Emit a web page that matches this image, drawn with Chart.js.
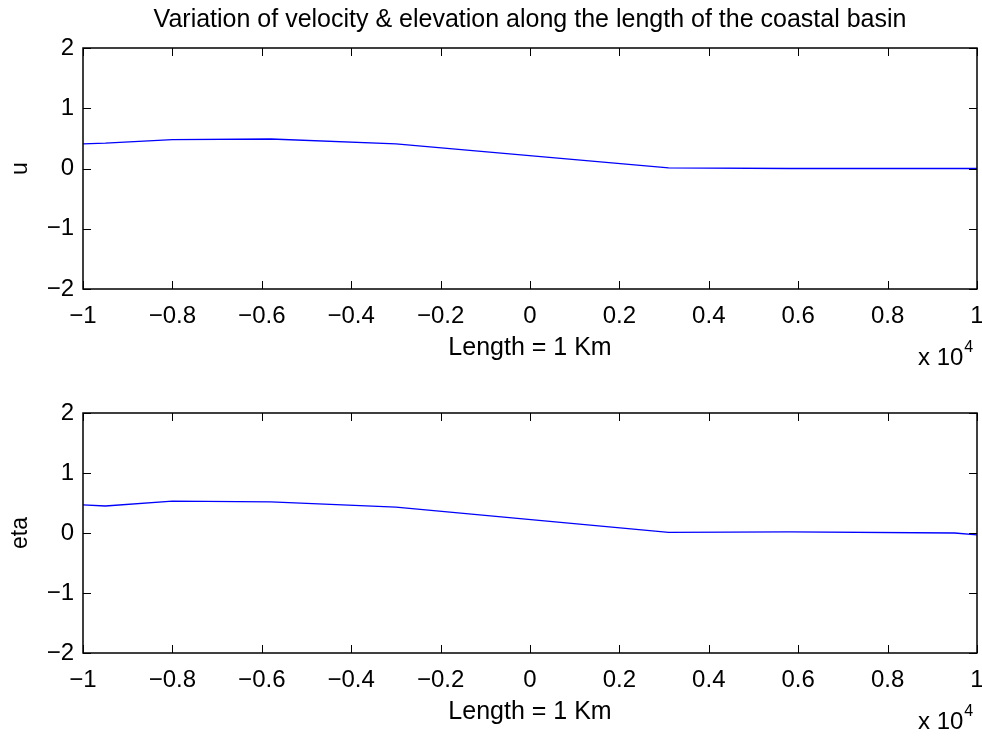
<!DOCTYPE html>
<html>
<head>
<meta charset="utf-8">
<script src="https://cdn.jsdelivr.net/npm/chart.js@4.4.1/dist/chart.umd.min.js"></script>
<style>
  html, body { margin: 0; padding: 0; background: #fff; }
  .box { position: absolute; left: 0; width: 982px; }
  #topBox { top: 0; height: 369px; }
  #botBox { top: 369px; height: 369px; }
</style>
</head>
<body>
<div class="box" id="topBox"><canvas id="uChart"></canvas></div>
<div class="box" id="botBox"><canvas id="etaChart"></canvas></div>
<script>
const FONT = "'Liberation Sans', Arial, Helvetica, sans-serif";

// positions along the basin (m)
const xPos = [-10000, -9500, -8000, -5800, -3000, 3100, 5800, 10000];
// velocity u
const uVals = [0.41, 0.42, 0.48, 0.49, 0.41, 0.01, 0.0, 0.0];
// elevation eta
const etaPos = [-10000, -9500, -8000, -5800, -3000, 3100, 5800, 9500, 10000];
const etaVals = [0.47, 0.45, 0.53, 0.52, 0.43, 0.01, 0.02, 0.0, -0.03];

const yTicks = [-2, -1, 0, 1, 2];
const xTicks = [-10000, -8000, -6000, -4000, -2000, 0, 2000, 4000, 6000, 8000, 10000];

function fmtX(v) {
    const s = Math.round(v / 1000) / 10;
    if (s === 0) return '0';
    return (s < 0 ? '\u2212' : '') + String(Math.abs(s));
}
function fmtY(v) {
    if (v === 0) return '0';
    return (v < 0 ? '\u2212' : '') + String(Math.abs(v));
}

// inward tick marks on all four sides + "x 10^4" multiplier, matlab style
const matlabAxes = {
    id: 'matlabAxes',
    afterLayout(chart) {
        // centre the title over the axes, not the whole canvas
        if (chart.titleBlock) {
            chart.titleBlock.left = chart.chartArea.left;
            chart.titleBlock.right = chart.chartArea.right;
        }
    },
    afterDraw(chart) {
        const { ctx, chartArea: a, scales: { x, y } } = chart;
        const tl = 8;
        ctx.save();
        ctx.strokeStyle = '#000';
        ctx.lineWidth = 1;
        ctx.beginPath();
        xTicks.forEach(t => {
            const px = Math.round(x.getPixelForValue(t)) + 0.5;
            ctx.moveTo(px, a.bottom); ctx.lineTo(px, a.bottom - tl);
            ctx.moveTo(px, a.top); ctx.lineTo(px, a.top + tl);
        });
        yTicks.forEach(t => {
            const py = Math.round(y.getPixelForValue(t)) + 0.5;
            ctx.moveTo(a.left, py); ctx.lineTo(a.left + tl, py);
            ctx.moveTo(a.right, py); ctx.lineTo(a.right - tl, py);
        });
        ctx.stroke();
        ctx.lineWidth = 1.5;
        ctx.strokeRect(a.left, a.top, a.right - a.left, a.bottom - a.top);
        // exponent label
        ctx.fillStyle = '#000';
        ctx.textBaseline = 'alphabetic';
        ctx.textAlign = 'left';
        ctx.font = '24px ' + FONT;
        const ex = a.right - 59;
        const ey = a.bottom + 76;
        ctx.fillText('x 10', ex, ey);
        const w = ctx.measureText('x 10').width;
        ctx.font = '16px ' + FONT;
        ctx.fillText('4', ex + w + 1, ey - 13);
        ctx.restore();
    }
};

function makeChart(id, xs, ys, yLabel, cfg) {
    const pts = xs.map((v, i) => ({ x: v, y: ys[i] }));
    return new Chart(document.getElementById(id), {
        type: 'line',
        data: { datasets: [{ data: pts, borderColor: '#0000ff', borderWidth: 1.3, pointRadius: 0, tension: 0, fill: false }] },
        options: {
            responsive: true,
            maintainAspectRatio: false,
            animation: false,
            events: [],
            layout: { padding: { top: cfg.top, right: 5, left: 0, bottom: 0 } },
            plugins: {
                legend: { display: false },
                tooltip: { enabled: false },
                title: {
                    display: !!cfg.title,
                    text: cfg.title || '',
                    color: '#000',
                    font: { family: FONT, size: 25, weight: 'normal' },
                    padding: { top: 5, bottom: 13 }
                }
            },
            scales: {
                x: {
                    type: 'linear',
                    min: -10000, max: 10000,
                    afterBuildTicks: s => { s.ticks = xTicks.map(v => ({ value: v })); },
                    afterFit: s => { s.height = cfg.xh; s.paddingLeft = 0; s.paddingRight = 0; },
                    grid: { display: false, drawTicks: false },
                    border: { display: false },
                    ticks: { color: '#000', font: { family: FONT, size: 24 }, padding: 13, maxRotation: 0, autoSkip: false, callback: v => fmtX(v) },
                    title: { display: true, text: 'Length = 1 Km', color: '#000', font: { family: FONT, size: 25 }, padding: { top: 0, bottom: cfg.xtb } }
                },
                y: {
                    type: 'linear',
                    min: -2, max: 2,
                    afterBuildTicks: s => { s.ticks = yTicks.map(v => ({ value: v })); },
                    afterFit: s => { s.width = 83; s.paddingTop = 0; s.paddingBottom = 0; },
                    grid: { display: false, drawTicks: false },
                    border: { display: false },
                    ticks: { color: '#000', font: { family: FONT, size: 24 }, padding: 9, callback: v => fmtY(v) },
                    title: { display: true, text: yLabel, color: '#000', font: { family: FONT, size: 23 }, padding: { top: 7, bottom: 0 } }
                }
            }
        },
        plugins: [matlabAxes]
    });
}

makeChart('uChart', xPos, uVals, 'u', { title: 'Variation of velocity & elevation along the length of the coastal basin', top: 0, xh: 80, xtb: 6 });
makeChart('etaChart', etaPos, etaVals, 'eta', { top: 44, xh: 85, xtb: 11 });
</script>
</body>
</html>
